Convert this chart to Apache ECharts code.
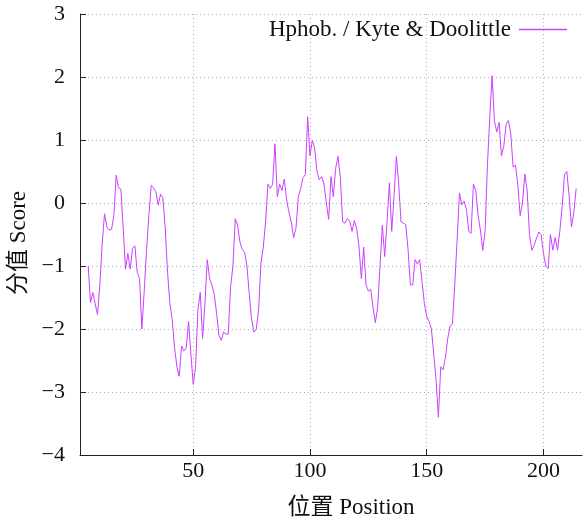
<!DOCTYPE html>
<html>
<head>
<meta charset="utf-8">
<script src="https://cdn.jsdelivr.net/npm/echarts@6/dist/echarts.min.js"></script>
<style>
  html, body { margin: 0; padding: 0; background: #fff; }
  #main { width: 586px; height: 518px; }
</style>
</head>
<body>
<div id="main"></div>
<script>
// Kyte & Doolittle hydrophobicity, window starts at residue 5
var startPos = 5;
var scores = [
  -1.0, -1.58, -1.42, -1.6, -1.77, -1.3, -0.65, -0.17, -0.38, -0.43,
  -0.42, -0.2, 0.44, 0.24, 0.22, -0.4, -1.05, -0.8, -1.05, -0.72,
  -0.68, -1.1, -1.2, -2.0, -1.4, -0.75, -0.2, 0.28, 0.24, 0.18,
  -0.03, 0.14, 0.08, -0.4, -1.1, -1.6, -1.85, -2.3, -2.6, -2.75,
  -2.27, -2.35, -2.3, -1.88, -2.4, -2.88, -2.6, -1.7, -1.42, -2.15,
  -1.6, -0.9, -1.2, -1.3, -1.45, -1.75, -2.1, -2.18, -2.05, -2.08,
  -2.08, -1.33, -1.0, -0.25, -0.35, -0.62, -0.74, -0.78, -1.0, -1.45,
  -1.85, -2.05, -2.0, -1.7, -0.95, -0.7, -0.3, 0.3, 0.23, 0.3,
  0.94, 0.1, 0.3, 0.2, 0.38, 0.05, -0.15, -0.3, -0.55, -0.4,
  0.1, 0.23, 0.4, 0.45, 1.37, 0.75, 1.0, 0.87, 0.5, 0.37,
  0.42, 0.3, 0.0, -0.26, 0.42, 0.1, 0.55, 0.74, 0.4, -0.3,
  -0.32, -0.25, -0.28, -0.45, -0.28, -0.4, -0.7, -1.2, -0.7, -1.3,
  -1.4, -1.37, -1.65, -1.9, -1.65, -1.0, -0.35, -0.85, -0.3, 0.32,
  -0.45, 0.1, 0.74, 0.3, -0.3, -0.32, -0.34, -0.74, -1.3, -1.3,
  -0.9, -0.97, -0.9, -1.25, -1.6, -1.8, -1.88, -2.0, -2.4, -2.8,
  -3.4, -2.6, -2.65, -2.45, -2.15, -1.95, -1.92, -1.3, -0.6, 0.16,
  -0.03, 0.03, -0.1, -0.45, -0.48, 0.3, 0.2, -0.2, -0.43, -0.75,
  -0.45, 0.6, 1.36, 2.02, 1.3, 1.13, 1.28, 0.75, 0.9, 1.25,
  1.31, 1.1, 0.57, 0.6, 0.3, -0.2, 0.0, 0.46, 0.2, -0.5,
  -0.75, -0.67, -0.56, -0.46, -0.5, -0.8, -1.0, -1.04, -0.5, -0.75,
  -0.55, -0.75, -0.45, -0.06, 0.45, 0.5, 0.1, -0.38, -0.15, 0.23
];
var xTicks = [50, 100, 150, 200];
var seriesName = 'Hphob. / Kyte & Doolittle';

var points = scores.map(function (v, i) { return [startPos + i, v]; });

var serif = '"Liberation Serif", "DejaVu Serif", "Noto Sans CJK SC", serif';
var lineColor = '#cc40ff';
var gridLine = { show: true, lineStyle: { color: '#b0b0b0', width: 1, type: [1, 3] } };

var chart = echarts.init(document.getElementById('main'));
chart.setOption({
	animation: false,
	backgroundColor: '#fff',
	grid: { left: 80, right: 4, top: 14, bottom: 63, outerBoundsMode: 'none', containLabel: false },
	legend: {
		right: 19,
		top: 18,
		padding: 0,
		align: 'right',
		orient: 'horizontal',
		icon: 'rect',
		itemWidth: 48,
		itemHeight: 1.5,
		itemStyle: { color: lineColor },
		textStyle: { fontFamily: serif, fontSize: 23, color: '#111', padding: [0, 3, 0, 0] },
		data: [seriesName]
	},
	xAxis: {
		type: 'value',
		min: 1.5,
		max: 216.5,
		name: '位置 Position',
		nameLocation: 'middle',
		nameGap: 41,
		nameTextStyle: { fontFamily: serif, fontSize: 23, color: '#111', padding: [0, 0, 0, 40] },
		axisLine: { show: true, onZero: false, lineStyle: { color: '#222', width: 1 } },
		axisTick: { show: true, inside: true, length: 6, customValues: xTicks, lineStyle: { color: '#222' } },
		axisLabel: { customValues: xTicks, fontFamily: serif, fontSize: 22, color: '#111', margin: 5 },
		splitLine: gridLine
	},
	yAxis: {
		type: 'value',
		min: -4,
		max: 3,
		interval: 1,
		name: '分值 Score',
		nameLocation: 'middle',
		nameGap: 47,
		nameTextStyle: { fontFamily: serif, fontSize: 23, color: '#111', padding: [0, 17, 0, 0] },
		axisLine: { show: true, onZero: false, lineStyle: { color: '#222', width: 1 } },
		axisTick: { show: true, inside: true, length: 6, lineStyle: { color: '#222' } },
		axisLabel: {
			fontFamily: serif, fontSize: 22, color: '#111', margin: 15,
			formatter: function (v) { return v < 0 ? '\u2212' + Math.abs(v) : String(v); }
		},
		splitLine: gridLine
	},
	series: [{
		name: seriesName,
		type: 'line',
		data: points,
		showSymbol: false,
		lineStyle: { color: lineColor, width: 1 },
		itemStyle: { color: lineColor }
	}]
});
</script>
</body>
</html>
